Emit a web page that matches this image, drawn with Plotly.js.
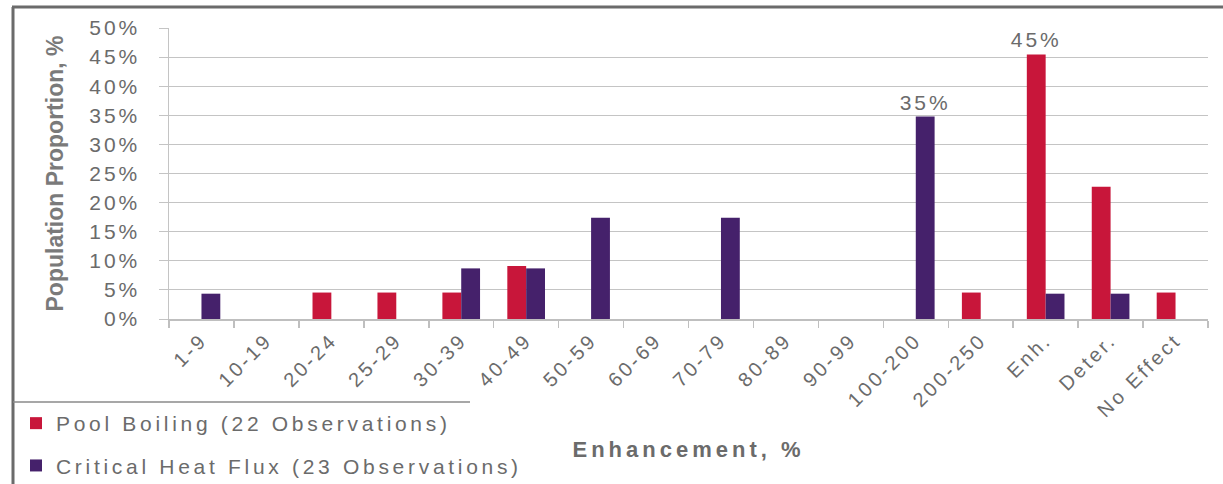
<!DOCTYPE html>
<html>
<head>
<meta charset="utf-8">
<script src="https://cdn.plot.ly/plotly-3.0.1.min.js"></script>
<style>
html,body{margin:0;padding:0;background:#fff;}
#chart{width:1223px;height:484px;}
#chart .xtick text, #chart .ytick text, #chart .bartext {letter-spacing:3px;}
#chart .legendtext {letter-spacing:3.7px;}
#chart .g-xtitle text {letter-spacing:4px;}
#chart .legend .scrollbox, #chart .legend {clip-path:none !important;}
</style>
</head>
<body>
<div id="chart"></div>
<script>
const categories = ['1-9','10-19','20-24','25-29','30-39','40-49','50-59','60-69','70-79','80-89','90-99','100-200','200-250','Enh.','Deter.','No Effect'];
const poolBoiling = [0, 0, 4.545, 4.545, 4.545, 9.091, 0, 0, 0, 0, 0, 0, 4.545, 45.455, 22.727, 4.545];
const criticalHeatFlux = [4.348, 0, 0, 0, 8.696, 8.696, 17.391, 0, 17.391, 0, 0, 34.783, 0, 4.348, 4.348, 0];
const seriesNames = ['Pool Boiling (22 Observations)', 'Critical Heat Flux (23 Observations)'];
const yTickValues = [0,5,10,15,20,25,30,35,40,45,50];

function peakLabels(vals){
  const m = Math.max(...vals);
  return vals.map(v => v === m ? Math.round(v) + '%' : '');
}

const gray = '#6b6b6b';
const font = 'Arial, "Liberation Sans", sans-serif';

const traces = [
  {type:'bar', x:categories, y:poolBoiling, name:seriesNames[0], marker:{color:'#c8163a'},
   text:peakLabels(poolBoiling), textposition:'outside', cliponaxis:false, constraintext:'none',
   textfont:{size:21,color:gray,family:font}, legendgroup:'a', hoverinfo:'x+y'},
  {type:'bar', x:categories, y:criticalHeatFlux, name:seriesNames[1], marker:{color:'#45216b'},
   text:peakLabels(criticalHeatFlux), textposition:'outside', cliponaxis:false, constraintext:'none',
   textfont:{size:21,color:gray,family:font}, legendgroup:'b', hoverinfo:'x+y'}
];

const layout = {
  width:1223, height:484,
  margin:{l:169, r:15, t:28, b:165, autoexpand:false},
  paper_bgcolor:'#fff', plot_bgcolor:'#fff',
  barmode:'group', bargap:0.42, bargroupgap:0,
  font:{family:font, color:gray},
  showlegend:true,
  legend:{x:(16-169)/1039, y:(319-403)/291, xanchor:'left', yanchor:'top', orientation:'v',
          font:{size:21, color:gray, family:font}, tracegroupgap:12, traceorder:'grouped',
          bgcolor:'rgba(0,0,0,0)', itemwidth:30},
  xaxis:{type:'category', tickangle:-45, tickfont:{size:20,color:gray,family:font},
         showline:true, linecolor:'#bfbfbf', linewidth:1.5, ticks:'outside', tickson:'boundaries',
         ticklen:7, tickcolor:'#bfbfbf', tickwidth:1.5, showgrid:false,
         title:{text:'<b>Enhancement, %</b>', font:{size:22,color:gray,family:font}, standoff:40}},
  yaxis:{range:[0,50], tickvals:yTickValues, ticktext:yTickValues.map(v=>v+'%'),
         tickfont:{size:21,color:gray,family:font}, showgrid:true, gridcolor:'#c4c4c4', gridwidth:1.2,
         showline:true, linecolor:'#c4c4c4', linewidth:1.5, ticks:'outside', ticklen:9,
         tickcolor:'#c4c4c4', zeroline:false, ticklabelstandoff:14,
         title:{text:'<b>Population Proportion, %</b>',
                font:{size:23,color:'#7a7a7a',family:font},
                standoff:28}},
  shapes:[
    {type:'line', xref:'paper', yref:'paper', x0:(13-169)/1039, x1:(13-169)/1039, y0:(319-7)/291, y1:(319-490)/291, line:{color:'#6b6b6b', width:3}},
    {type:'line', xref:'paper', yref:'paper', x0:(12-169)/1039, x1:(1230-169)/1039, y0:(319-7)/291, y1:(319-7)/291, line:{color:'#6b6b6b', width:3}},
    {type:'line', xref:'paper', yref:'paper', x0:(13-169)/1039, x1:(470-169)/1039, y0:(319-402)/291, y1:(319-402)/291, line:{color:'#8a8a8a', width:1.5}}
  ]
};

Plotly.newPlot('chart', traces, layout, {displayModeBar:false, staticPlot:true});
</script>
</body>
</html>
